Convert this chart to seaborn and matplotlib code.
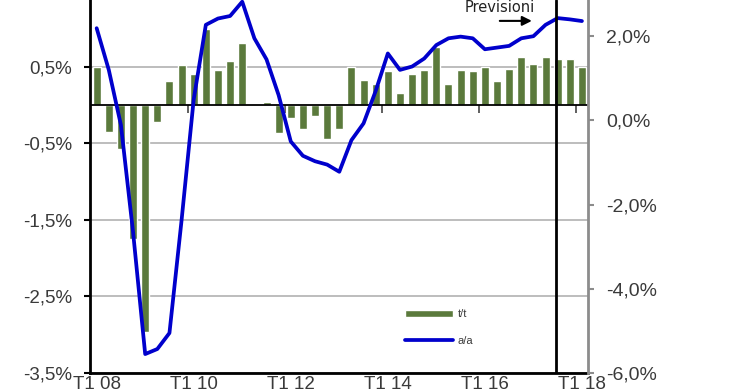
import numpy as np
import matplotlib
matplotlib.use("Agg")
from matplotlib import pyplot as plt
from matplotlib.ticker import FuncFormatter
import seaborn as sns

# quarters T1 08 .. T1 18
years = list(range(8, 19))
quarters = [f"T{q} {y:02d}" for y in years for q in range(1, 5)][:41]

# t/t growth, % (bars, left axis)
tt = [0.50, -0.35, -0.57, -1.75, -2.97, -0.22, 0.31, 0.52, 0.40, 0.99,
      0.45, 0.58, 0.81, 0.00, 0.04, -0.37, -0.17, -0.31, -0.15, -0.44,
      -0.31, 0.49, 0.33, 0.27, 0.44, 0.15, 0.40, 0.46, 0.76, 0.27,
      0.46, 0.44, 0.50, 0.31, 0.47, 0.63, 0.54, 0.63, 0.60, 0.60, 0.50]

# a/a growth, % (line, right axis)
aa = [2.19, 1.20, -0.11, -2.65, -5.55, -5.43, -5.05, -2.37, 0.50, 2.27,
      2.42, 2.48, 2.82, 1.95, 1.45, 0.60, -0.50, -0.84, -0.97, -1.05,
      -1.22, -0.47, -0.07, 0.70, 1.59, 1.20, 1.28, 1.47, 1.79, 1.95,
      1.99, 1.95, 1.69, 1.73, 1.77, 1.95, 2.00, 2.27, 2.43, 2.40, 2.36]

xtick_labels = ["T1 08", "T1 10", "T1 12", "T1 14", "T1 16", "T1 18"]
left_ticks = [-3.5, -2.5, -1.5, -0.5, 0.5, 1.5]
right_ticks = [-6, -4, -2, 0, 2]

sns.set_theme(style="white")
plt.rcParams["font.family"] = ["Liberation Sans", "DejaVu Sans"]

fig, ax = plt.subplots(figsize=(7.4, 3.89), dpi=100)
fig.subplots_adjust(left=0.1216, right=0.7946, bottom=0.0411, top=1.0)

green = "#5B7A3C"
blue = "#0000CC"
txt = "#3A3A3A"
pct = FuncFormatter(lambda v, p: f"{v:.1f}%".replace(".", ","))

sns.barplot(x=quarters, y=tt, color=green, saturation=1, width=0.66,
            ax=ax, label="t/t")
ax.set_xticks(range(0, 41, 8), labels=xtick_labels)
ax.set_yticks(left_ticks)
ax.yaxis.set_major_formatter(pct)
ylo, yhi = -3.5, 1.37
ax.set_ylim(ylo, yhi)
ax.set_xlim(-0.55, 40.5)
ax.set_axisbelow(True)
ax.yaxis.grid(True, color="#B8B8B8", lw=1.3)
ax.axhline(0, color="black", lw=1.3, zorder=3)

ax.tick_params(axis="x", length=0, pad=2, labelsize=13.5, labelcolor=txt)
ax.tick_params(axis="y", length=4, width=1.5, color="black", pad=9,
               labelsize=13.5, labelcolor=txt, direction="out", left=True)
ax.set_xlabel("")
for s in ["top", "right"]:
    ax.spines[s].set_visible(False)
ax.spines["left"].set_linewidth(2)
ax.spines["left"].set_color("black")
ax.spines["bottom"].set_linewidth(2)
ax.spines["bottom"].set_color("black")

# small tick marks hanging from the zero line
zero_frac = (0 - ylo) / (yhi - ylo)
sec = ax.secondary_xaxis(zero_frac)
sec.set_alignment("bottom")
sec.set_xticks([7.5, 15.5, 23.5, 31.5, 39.5], labels=[])
sec.tick_params(axis="x", direction="out", length=6, width=1.2, color="#444444")
for s in sec.spines.values():
    s.set_visible(False)

ax2 = ax.twinx()
sns.lineplot(x=np.arange(len(aa)), y=aa, color=blue, lw=2.7, ax=ax2, label="a/a")
ax2.set_yticks(right_ticks)
ax2.yaxis.set_major_formatter(pct)
ax2.set_ylim(-6, 2.86)
ax2.set_xlim(-0.55, 40.5)
ax2.tick_params(axis="y", length=4, width=1.5, color="#8C8C8C", pad=9,
                labelsize=14, labelcolor=txt, direction="out", right=True)
for s in ["top", "left", "bottom"]:
    ax2.spines[s].set_visible(False)
ax2.spines["right"].set_linewidth(2)
ax2.spines["right"].set_color("#8C8C8C")

# forecast separator
ax2.axvline(37.9, color="black", lw=2, zorder=5)
ax2.text(36.1, 0.979, "Previsioni", transform=ax2.get_xaxis_transform(),
         ha="right", va="center", fontsize=10.5, family=["DejaVu Sans"], color="#222222")
ax2.annotate("", xy=(36.1, 0.944), xytext=(33.0, 0.944),
             xycoords=ax2.get_xaxis_transform(),
             arrowprops=dict(arrowstyle="-|>", color="black", lw=1.5,
                             mutation_scale=14))

if ax.get_legend() is not None:
    ax.get_legend().remove()
h1, l1 = ax.get_legend_handles_labels()
h2, l2 = ax2.get_legend_handles_labels()
ax2.legend(h1[:1] + h2, ["t/t", "a/a"], loc="center left",
           bbox_to_anchor=(0.633, 0.122), frameon=False, fontsize=8,
           handlelength=4.3, handleheight=0.6, labelspacing=1.45,
           borderpad=0, borderaxespad=0, handletextpad=0.4,
           labelcolor=txt)

fig.savefig("out.png", dpi=100)
